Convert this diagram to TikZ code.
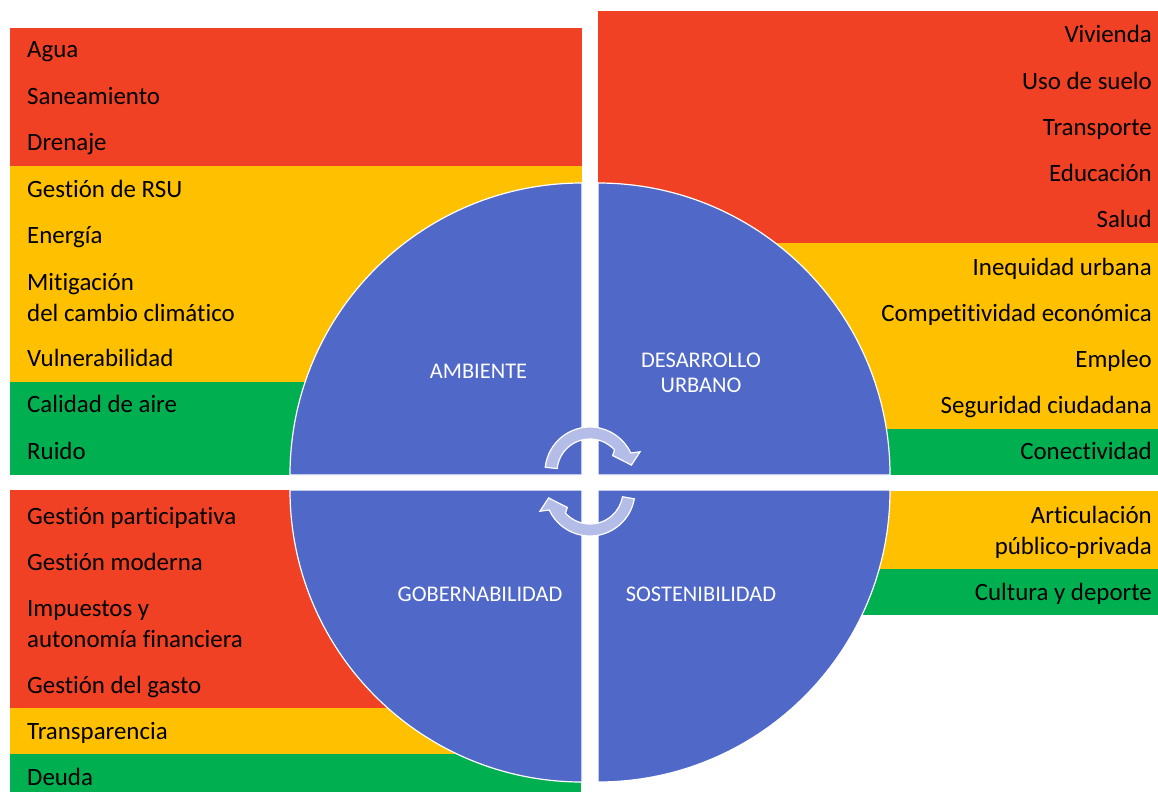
\documentclass[tikz,border=0pt]{standalone}
\usepackage{fontspec}
\setmainfont{Carlito}[Ligatures=NoCommon]
\definecolor{cred}{HTML}{F04125}
\definecolor{cyel}{HTML}{FFC000}
\definecolor{cgrn}{HTML}{00B050}
\definecolor{cblue}{HTML}{5068C8}
\definecolor{carrow}{HTML}{B4BCE8}
\begin{document}
\begin{tikzpicture}[x=1pt,y=-1pt,
  item/.style={font=\fontsize{24.9}{29}\selectfont, inner sep=0pt, text=black},
  lab/.style={font=\fontsize{22.4}{25}\selectfont, inner sep=0pt, text=white, align=center},
  quad/.style={fill=cblue, draw=white, line width=1.2pt},
  cyc/.style={fill=carrow, draw=white, line width=1.2pt, line join=miter}]
\useasboundingbox (0,0) rectangle (1158,792);
\fill[white] (0,0) rectangle (1158,792);
% panels
\fill[cred] (10,28) rectangle (582,166);
\fill[cyel] (10,166) rectangle (582,382);
\fill[cgrn] (10,382) rectangle (582,475);
\fill[cred] (598,11) rectangle (1158,243);
\fill[cyel] (598,243) rectangle (1158,429);
\fill[cgrn] (598,429) rectangle (1158,475);
\fill[cred] (10,490) rectangle (582,708);
\fill[cyel] (10,708) rectangle (582,754);
\fill[cgrn] (10,754) rectangle (581,792);
\fill[cyel] (598,491) rectangle (1158,569);
\fill[cgrn] (598,569) rectangle (1158,615);
% quadrants
\path[quad] (582,475) -- (290,475) arc[start angle=180,end angle=270,radius=292] -- cycle;
\path[quad] (598,475) -- (598,183) arc[start angle=270,end angle=360,radius=292] -- cycle;
\path[quad] (582,490) -- (582,782) arc[start angle=90,end angle=180,radius=292] -- cycle;
\path[quad] (598,490) -- (890,490) arc[start angle=0,end angle=90,radius=292] -- cycle;
% cycle arrows
\begin{scope}[shift={(590,472)}]
\path[cyc] (186:45) arc[start angle=186,end angle=335,radius=45] -- (338:54) -- (350.5:42) -- (324:28) -- (318:33) arc[start angle=318,end angle=186,radius=33] -- cycle;
\end{scope}
\begin{scope}[shift={(590,491)}]
\path[cyc] (10:45) arc[start angle=10,end angle=155,radius=45] -- (158:54) -- (170.5:42) -- (144:28) -- (138:33) arc[start angle=138,end angle=10,radius=33] -- cycle;
\end{scope}
% circle labels
\node[lab] (amb) at (478.5,371.7) {AMBIENTE};
\node[lab] (des) at (701,372.5) {DESARROLLO\\URBANO};
\node[lab] (gob) at (480,594.3) {GOBERNABILIDAD};
\node[lab] (sos) at (701,594.3) {SOSTENIBILIDAD};
% left top
\node[item, anchor=base west] (l1) at (27,57) {Agua};
\node[item, anchor=base west] (l2) at (27,104) {Saneamiento};
\node[item, anchor=base west] (l3) at (27,150.5) {Drenaje};
\node[item, anchor=base west] (l4) at (27,197) {Gestión de RSU};
\node[item, anchor=base west] (l5) at (27,243.5) {Energía};
\node[item, anchor=base west] (l6a) at (27,290) {Mitigación};
\node[item, anchor=base west] (l6b) at (27,321) {del cambio climático};
\node[item, anchor=base west] (l7) at (27,366) {Vulnerabilidad};
\node[item, anchor=base west] (l8) at (27,412.5) {Calidad de aire};
\node[item, anchor=base west] (l9) at (27,459.5) {Ruido};
% right top
\node[item, anchor=base east] (r1) at (1152,43) {Vivienda};
\node[item, anchor=base east] (r2) at (1152,89) {Uso de suelo};
\node[item, anchor=base east] (r3) at (1152,135) {Transporte};
\node[item, anchor=base east] (r4) at (1152,181) {Educación};
\node[item, anchor=base east] (r5) at (1152,227) {Salud};
\node[item, anchor=base east] (r6) at (1152,275) {Inequidad urbana};
\node[item, anchor=base east] (r7) at (1152,321) {Competitividad económica};
\node[item, anchor=base east] (r8) at (1152,367) {Empleo};
\node[item, anchor=base east] (r9) at (1152,413) {Seguridad ciudadana};
\node[item, anchor=base east] (r10) at (1152,459.5) {Conectividad};
% left bottom
\node[item, anchor=base west] (b1) at (27,524) {Gestión participativa};
\node[item, anchor=base west] (b2) at (27,570) {Gestión moderna};
\node[item, anchor=base west] (b3a) at (27,616) {Impuestos y};
\node[item, anchor=base west] (b3b) at (27,647) {autonomía financiera};
\node[item, anchor=base west] (b4) at (27,693) {Gestión del gasto};
\node[item, anchor=base west] (b5) at (27,739) {Transparencia};
\node[item, anchor=base west] (b6) at (27,785) {Deuda};
% right bottom
\node[item, anchor=base east] (s1a) at (1152,523) {Articulación};
\node[item, anchor=base east] (s1b) at (1152,554) {público-privada};
\node[item, anchor=base east] (s2) at (1152,600) {Cultura y deporte};
\end{tikzpicture}
\end{document}
